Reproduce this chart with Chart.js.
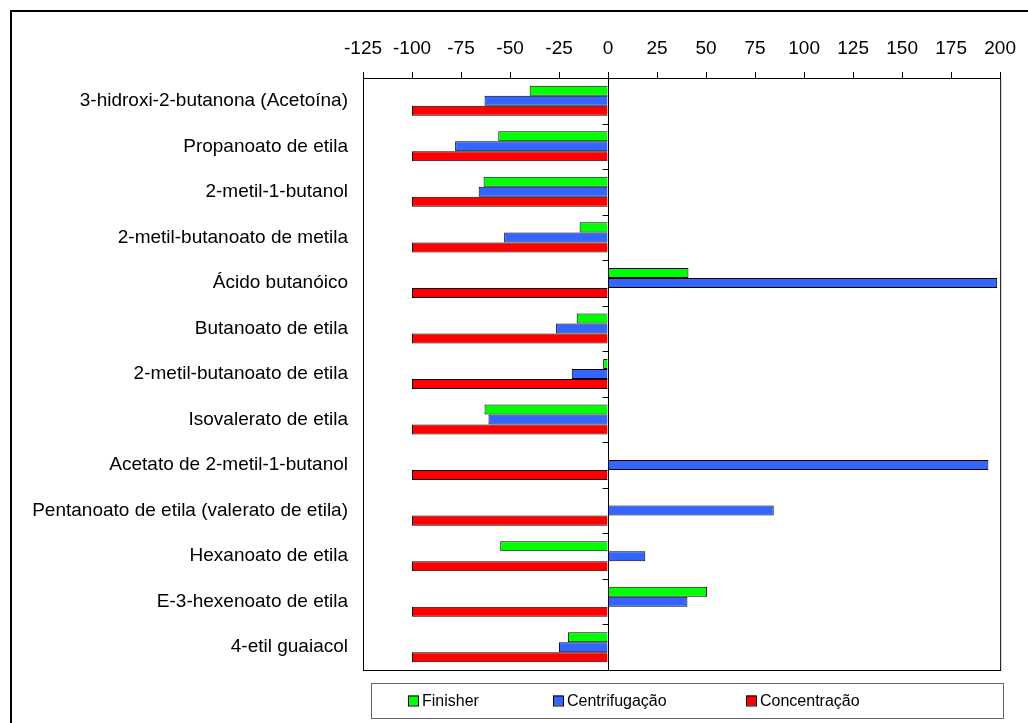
<!DOCTYPE html>
<html>
<head>
<meta charset="utf-8">
<script src="https://cdn.jsdelivr.net/npm/chart.js@4.4.1/dist/chart.umd.min.js"></script>
<style>
  html, body { margin: 0; padding: 0; background: #fff; }
  canvas { display: block; }
</style>
</head>
<body>
<canvas id="grafico" width="1028" height="723"></canvas>
<script>
// dados (variação %)
const categorias = [
    '3-hidroxi-2-butanona (Acetoína)',
    'Propanoato de etila',
    '2-metil-1-butanol',
    '2-metil-butanoato de metila',
    'Ácido butanóico',
    'Butanoato de etila',
    '2-metil-butanoato de etila',
    'Isovalerato de etila',
    'Acetato de 2-metil-1-butanol',
    'Pentanoato de etila (valerato de etila)',
    'Hexanoato de etila',
    'E-3-hexenoato de etila',
    '4-etil guaiacol'
];
const finisher      = [-40, -56, -63.5, -14.5, 41, -16, -2.5, -63, null, null, -55, 50.5, -20.5];
const centrifugacao = [-63, -78, -66, -53, 198.5, -26.5, -18.5, -61, 194, 84.5, 19, 40.5, -25];
const concentracao  = [-100, -100, -100, -100, -100, -100, -100, -100, -100, -100, -100, -100, -100];
const ticksX = [-125, -100, -75, -50, -25, 0, 25, 50, 75, 100, 125, 150, 175, 200];

const FONTE = 'Liberation Sans, Arial, sans-serif';

// moldura, linha do zero e legenda desenhadas à mão
const decoracao = {
    id: 'decoracao',
    afterDatasetsDraw(chart) {
        const { ctx, chartArea, scales } = chart;
        const x0 = Math.round(scales.x.getPixelForValue(0)) + 0.5;
        ctx.save();

        // contorno da área do gráfico
        ctx.strokeStyle = '#000';
        ctx.lineWidth = 1;
        ctx.strokeRect(chartArea.left + 0.5, chartArea.top + 0.5,
            chartArea.right - chartArea.left, chartArea.bottom - chartArea.top);

        // eixo do zero com marcas entre categorias
        ctx.beginPath();
        ctx.moveTo(x0, chartArea.top - 6);
        ctx.lineTo(x0, chartArea.bottom);
        const n = categorias.length;
        const passo = (chartArea.bottom - chartArea.top) / n;
        for (let i = 1; i < n; i++) {
            const y = Math.round(chartArea.top + passo * i) + 0.5;
            ctx.moveTo(x0 - 6, y);
            ctx.lineTo(x0, y);
        }
        ctx.stroke();

        // moldura externa
        ctx.lineWidth = 2;
        ctx.beginPath();
        ctx.moveTo(11, chart.height);
        ctx.lineTo(11, 11);
        ctx.lineTo(chart.width, 11);
        ctx.stroke();

        // legenda
        const bx = 371, by = 683, bw = 632, bh = 35;
        ctx.lineWidth = 1;
        ctx.strokeStyle = '#666';
        ctx.strokeRect(bx + 0.5, by + 0.5, bw, bh);
        ctx.font = '16px ' + FONTE;
        ctx.textBaseline = 'middle';
        const posicoes = [408, 553, 746];
        chart.data.datasets.forEach((ds, i) => {
            const lx = posicoes[i];
            const ly = by + bh / 2;
            ctx.fillStyle = ds.backgroundColor;
            ctx.fillRect(lx, ly - 5, 10, 10);
            ctx.strokeStyle = '#000';
            ctx.strokeRect(lx + 0.5, ly - 4.5, 10, 10);
            ctx.fillStyle = '#000';
            ctx.fillText(ds.label, lx + 14, ly + 1);
        });
        ctx.restore();
    }
};

new Chart(document.getElementById('grafico'), {
    type: 'bar',
    data: {
        labels: categorias,
        datasets: [
            { label: 'Finisher', data: finisher, backgroundColor: '#00FF00' },
            { label: 'Centrifugação', data: centrifugacao, backgroundColor: '#3366FF' },
            { label: 'Concentração', data: concentracao, backgroundColor: '#FF0000' }
        ]
    },
    options: {
        indexAxis: 'y',
        responsive: false,
        animation: false,
        devicePixelRatio: 1,
        layout: { padding: { left: 10, right: 27, top: 0, bottom: 53 } },
        datasets: {
            bar: {
                borderColor: '#000',
                borderWidth: 1,
                barPercentage: 1,
                categoryPercentage: 0.66
            }
        },
        plugins: {
            legend: { display: false },
            tooltip: { enabled: false }
        },
        scales: {
            x: {
                position: 'top',
                min: -125,
                max: 200,
                afterBuildTicks: (scale) => { scale.ticks = ticksX.map(v => ({ value: v })); },
                afterFit: (scale) => { scale.height = 78; },
                grid: { drawOnChartArea: false, drawTicks: true, tickLength: 6, color: '#000' },
                border: { display: true, color: '#000' },
                ticks: {
                    color: '#000',
                    padding: 12,
                    maxRotation: 0,
                    font: { family: FONTE, size: 19 }
                }
            },
            y: {
                afterFit: (scale) => { scale.width = 353; },
                grid: { display: false },
                border: { display: false },
                ticks: {
                    color: '#000',
                    padding: 7,
                    font: { family: FONTE, size: 19 }
                }
            }
        }
    },
    plugins: [decoracao]
});
</script>
</body>
</html>
